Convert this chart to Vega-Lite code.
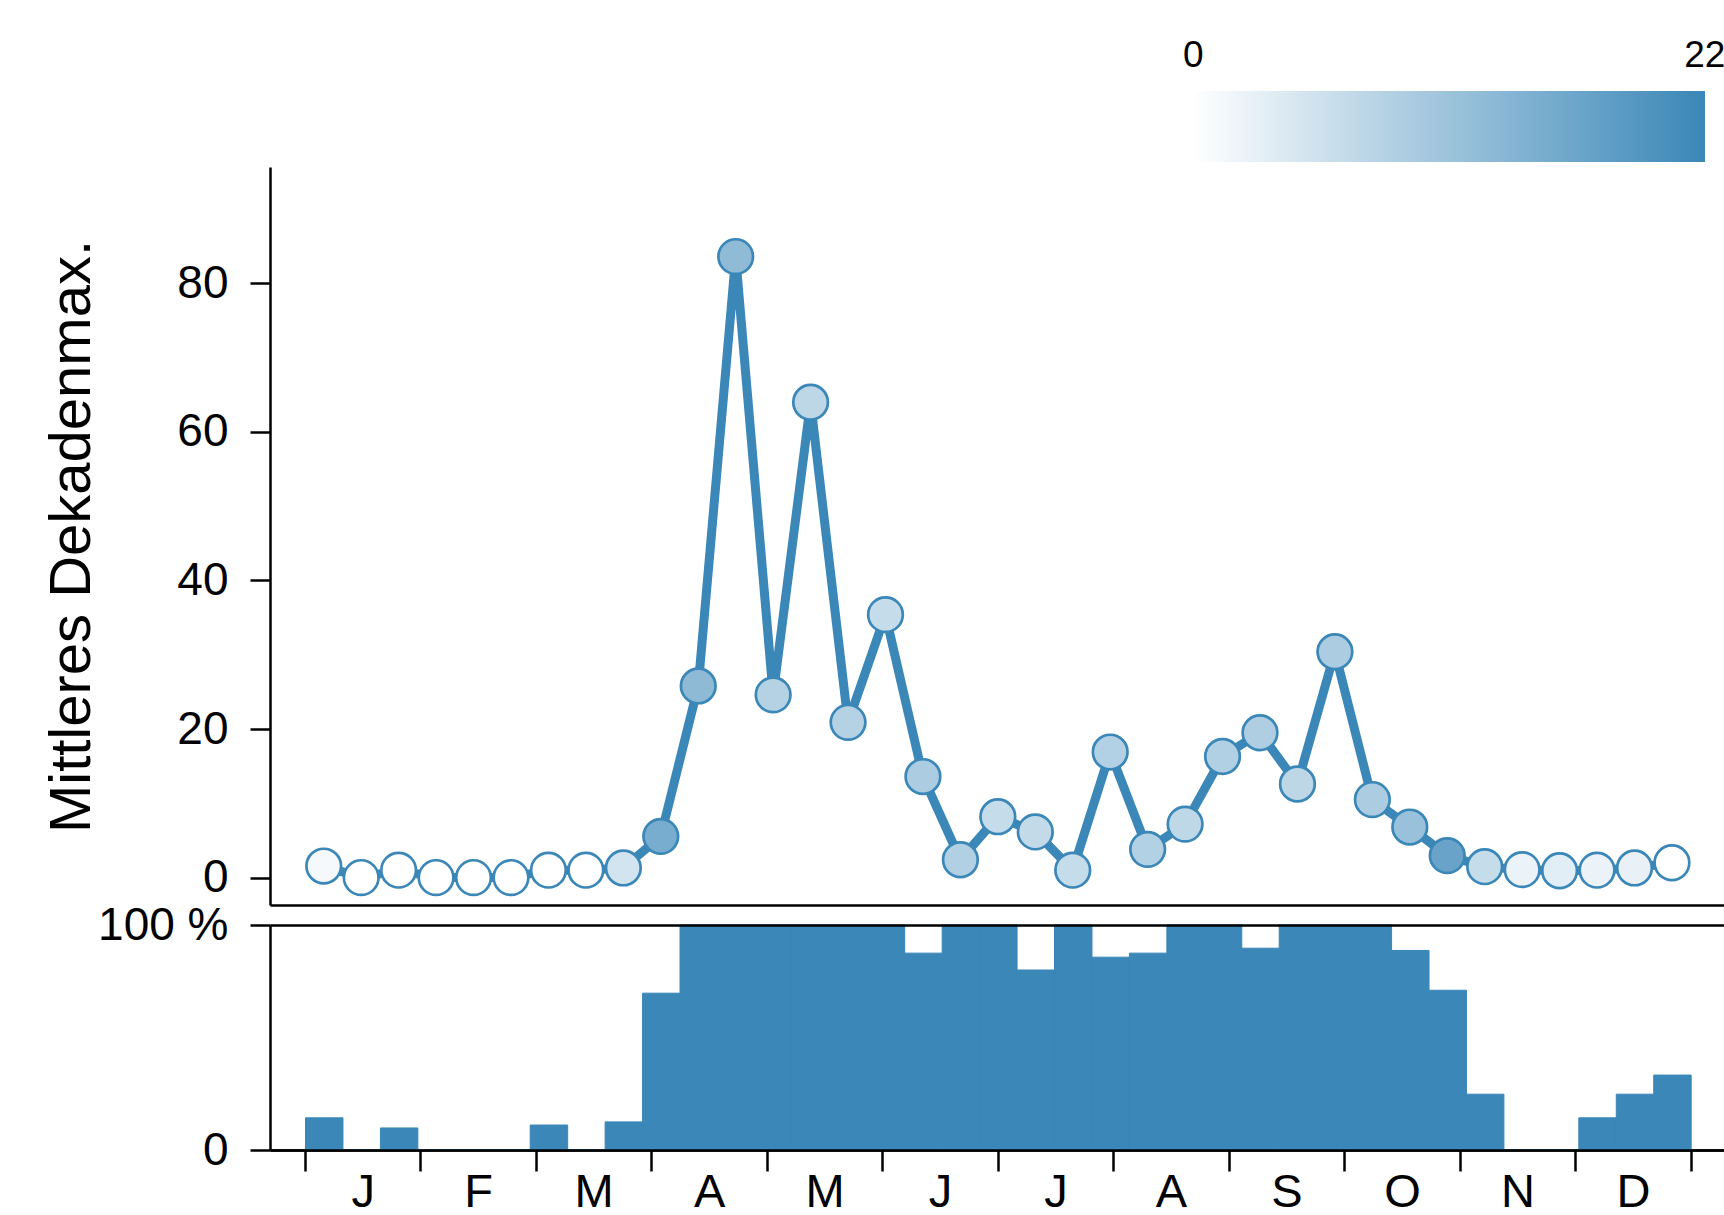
{
  "$schema": "https://vega.github.io/schema/vega-lite/v6.json",
  "autosize": {"type": "none"},
  "padding": {"left": 270, "top": 167, "right": 0, "bottom": 65},
  "width": 1454,
  "height": 983,
  "background": "white",
  "config": {
    "view": {"stroke": null},
    "font": "Liberation Sans",
    "axis": {"grid": false, "domainColor": "black", "tickColor": "black", "labelColor": "black", "titleColor": "black", "domainWidth": 2.5, "tickWidth": 2.5}
  },
  "data": {
    "values": [
      {"zeit": 0.5, "max": 1.55, "n": 1.0, "anteil": 14.3},
      {"zeit": 1.5, "max": 0.0, "n": 0, "anteil": 0},
      {"zeit": 2.5, "max": 1.0, "n": 0, "anteil": 9.8},
      {"zeit": 3.5, "max": 0.0, "n": 0, "anteil": 0},
      {"zeit": 4.5, "max": 0.0, "n": 0, "anteil": 0},
      {"zeit": 5.5, "max": 0.0, "n": 0, "anteil": 0},
      {"zeit": 6.5, "max": 1.0, "n": 0, "anteil": 11.1},
      {"zeit": 7.5, "max": 1.0, "n": 0, "anteil": 0},
      {"zeit": 8.5, "max": 1.3, "n": 5, "anteil": 12.5},
      {"zeit": 9.5, "max": 5.55, "n": 15, "anteil": 69.7},
      {"zeit": 10.5, "max": 25.8, "n": 12.6, "anteil": 100},
      {"zeit": 11.5, "max": 83.6, "n": 12.5, "anteil": 100},
      {"zeit": 12.5, "max": 24.6, "n": 8.3, "anteil": 100},
      {"zeit": 13.5, "max": 64.0, "n": 7.4, "anteil": 100},
      {"zeit": 14.5, "max": 20.9, "n": 8.3, "anteil": 100},
      {"zeit": 15.5, "max": 35.4, "n": 6.5, "anteil": 100},
      {"zeit": 16.5, "max": 13.6, "n": 9.3, "anteil": 87.5},
      {"zeit": 17.5, "max": 2.4, "n": 8.6, "anteil": 100},
      {"zeit": 18.5, "max": 8.2, "n": 6.5, "anteil": 100},
      {"zeit": 19.5, "max": 6.15, "n": 6.7, "anteil": 80},
      {"zeit": 20.5, "max": 1.0, "n": 6.5, "anteil": 100},
      {"zeit": 21.5, "max": 16.9, "n": 8.5, "anteil": 85.7},
      {"zeit": 22.5, "max": 3.8, "n": 8.5, "anteil": 87.5},
      {"zeit": 23.5, "max": 7.2, "n": 7.2, "anteil": 100},
      {"zeit": 24.5, "max": 16.3, "n": 8.7, "anteil": 100},
      {"zeit": 25.5, "max": 19.5, "n": 8.9, "anteil": 89.7},
      {"zeit": 26.5, "max": 12.6, "n": 7.4, "anteil": 100},
      {"zeit": 27.5, "max": 30.4, "n": 9.4, "anteil": 100},
      {"zeit": 28.5, "max": 10.5, "n": 9.4, "anteil": 100},
      {"zeit": 29.5, "max": 6.8, "n": 11.3, "anteil": 88.7},
      {"zeit": 30.5, "max": 2.96, "n": 16.8, "anteil": 71},
      {"zeit": 31.5, "max": 1.47, "n": 6.5, "anteil": 24.8},
      {"zeit": 32.5, "max": 1.07, "n": 2.2, "anteil": 0},
      {"zeit": 33.5, "max": 0.92, "n": 3.2, "anteil": 0},
      {"zeit": 34.5, "max": 1.0, "n": 2.2, "anteil": 14.3},
      {"zeit": 35.5, "max": 1.3, "n": 2.5, "anteil": 24.8},
      {"zeit": 36.5, "max": 2.0, "n": 0, "anteil": 33.3}
    ]
  },
  "layer": [
    {
      "encoding": {
        "x": {
          "field": "zeit", "type": "quantitative",
          "scale": {"domain": [-0.935, 37.89], "nice": false, "zero": false},
          "axis": {"orient": "bottom", "offset": -245, "ticks": false, "labels": false, "title": null, "grid": false, "domain": true}
        },
        "y": {
          "field": "max", "type": "quantitative",
          "scale": {"domain": [-3.69, 95.66], "range": [738, 0], "nice": false, "zero": false},
          "axis": {
            "orient": "left", "values": [0, 20, 40, 60, 80], "tickSize": 20, "labelPadding": 22,
            "labelFontSize": 46, "title": "Mittleres Dekadenmax.", "titleFontSize": 58,
            "titleFontWeight": "normal", "titleX": -181, "titleBaseline": "alphabetic", "titleAngle": 270
          }
        }
      },
      "layer": [
        {
          "mark": {"type": "line", "color": "#3a87b8", "strokeWidth": 9},
          "encoding": {}
        },
        {
          "mark": {"type": "circle", "size": 1200, "stroke": "#3a87b8", "strokeWidth": 2.7, "opacity": 1, "fillOpacity": 1},
          "encoding": {
            "fill": {
              "field": "n", "type": "quantitative",
              "scale": {"domain": [-0.01, 22.01], "range": ["#ffffff", "#3a87b8"], "interpolate": "rgb"},
              "legend": {
                "orient": "none", "legendX": 923, "legendY": -76, "direction": "horizontal",
                "gradientLength": 512, "gradientThickness": 71, "values": [0, 22], "title": null,
                "labelFontSize": 37, "labelOffset": -124.5,
                "gradientStrokeWidth": 0, "labelOverlap": false, "padding": 0, "offset": 0,
                "labelColor": "black"
              }
            }
          }
        }
      ]
    },
    {
      "mark": {"type": "bar", "color": "#3a87b8", "binSpacing": 0, "stroke": "#3a87b8", "strokeWidth": 1},
      "encoding": {
        "x": {
          "field": "zeit", "type": "quantitative", "bin": {"step": 1, "extent": [0, 37]},
          "scale": {"domain": [-0.935, 37.89], "nice": false, "zero": false},
          "axis": {
            "orient": "bottom", "title": null, "grid": false,
            "values": [0, 3.083333, 6.166667, 9.25, 12.333333, 15.416667, 18.5, 21.583333, 24.666667, 27.75, 30.833333, 33.916667, 37],
            "labelExpr": "['J','F','M','A','M','J','J','A','S','O','N','D',''][round(datum.value*12/37)]",
            "tickSize": 21, "labelOffset": 57.7, "labelPadding": 35, "labelBaseline": "alphabetic",
            "labelFontSize": 47, "labelFlush": false, "labelOverlap": false, "labelBound": false
          }
        },
        "y": {
          "field": "anteil", "type": "quantitative",
          "scale": {"domain": [0, 100], "range": [983, 758], "nice": false},
          "axis": {
            "orient": "left", "values": [0, 100], "labelExpr": "datum.value == 100 ? '100 %' : '0'",
            "tickSize": 20, "labelPadding": 22, "labelFontSize": 46, "title": null,
            "grid": true, "gridColor": "black", "gridWidth": 2.5, "gridOpacity": 1, "zindex": 1
          }
        }
      }
    }
  ],
  "resolve": {"scale": {"y": "independent", "fill": "independent"}, "axis": {"x": "independent", "y": "independent"}}
}
